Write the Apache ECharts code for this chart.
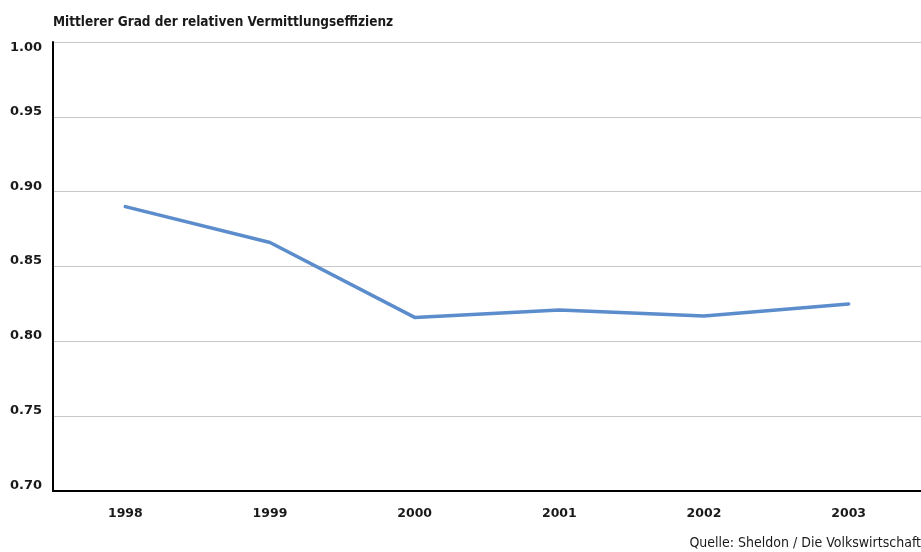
<!DOCTYPE html>
<html>
<head>
<meta charset="utf-8">
<script src="https://cdn.jsdelivr.net/npm/echarts@6/dist/echarts.min.js"></script>
<style>
  html, body { margin: 0; padding: 0; background: #fff; }
  #chart { width: 921px; height: 552px; }
</style>
</head>
<body>
<div id="chart"></div>
<script>
// Mean degree of relative placement efficiency, 1998–2003
const years = ['1998', '1999', '2000', '2001', '2002', '2003'];
const efficiency = [0.890, 0.866, 0.816, 0.821, 0.817, 0.825];
const yTicks = { min: 0.70, max: 1.00, interval: 0.05 };

const chart = echarts.init(document.getElementById('chart'));
chart.setOption({
  animation: false,
  backgroundColor: '#ffffff',
  title: [
    {
      text: 'Mittlerer Grad der relativen Vermittlungseffizienz',
      left: 53, top: 15, padding: 0,
      textStyle: { fontFamily: 'DejaVu Sans Condensed', fontWeight: 'bold', fontSize: 13.5, color: '#1a1a1a' }
    },
    {
      text: 'Quelle: Sheldon / Die Volkswirtschaft',
      right: 0, top: 536, padding: 0,
      textStyle: { fontFamily: 'DejaVu Sans Condensed', fontWeight: 'normal', fontSize: 14, color: '#1a1a1a' }
    }
  ],
  grid: { left: 53, right: -2, top: 42, bottom: 61, containLabel: false },
  xAxis: {
    type: 'category',
    data: years,
    boundaryGap: true,
    axisLine: { show: true, lineStyle: { color: '#000', width: 2 } },
    axisTick: { show: false },
    axisLabel: { margin: 16, fontFamily: 'DejaVu Sans', fontWeight: 'bold', fontSize: 12.5, color: '#1a1a1a' },
    splitLine: { show: false }
  },
  yAxis: {
    type: 'value',
    min: yTicks.min, max: yTicks.max, interval: yTicks.interval,
    axisLine: { show: true, lineStyle: { color: '#000', width: 2 } },
    axisTick: { show: false },
    axisLabel: {
      margin: 11, fontFamily: 'DejaVu Sans', fontWeight: 'bold', fontSize: 13, color: '#1a1a1a',
      lineHeight: 11,
      verticalAlign: 'bottom',
      verticalAlignMaxLabel: 'top',
      formatter: v => v.toFixed(2)
    },
    splitLine: { show: true, lineStyle: { color: '#c8c8c8', width: 1 } }
  },
  series: [{
    type: 'line',
    data: efficiency,
    symbol: 'none',
    lineStyle: { color: '#5b8ccb', width: 3.5, cap: 'round', join: 'round' }
  }]
});
</script>
</body>
</html>
